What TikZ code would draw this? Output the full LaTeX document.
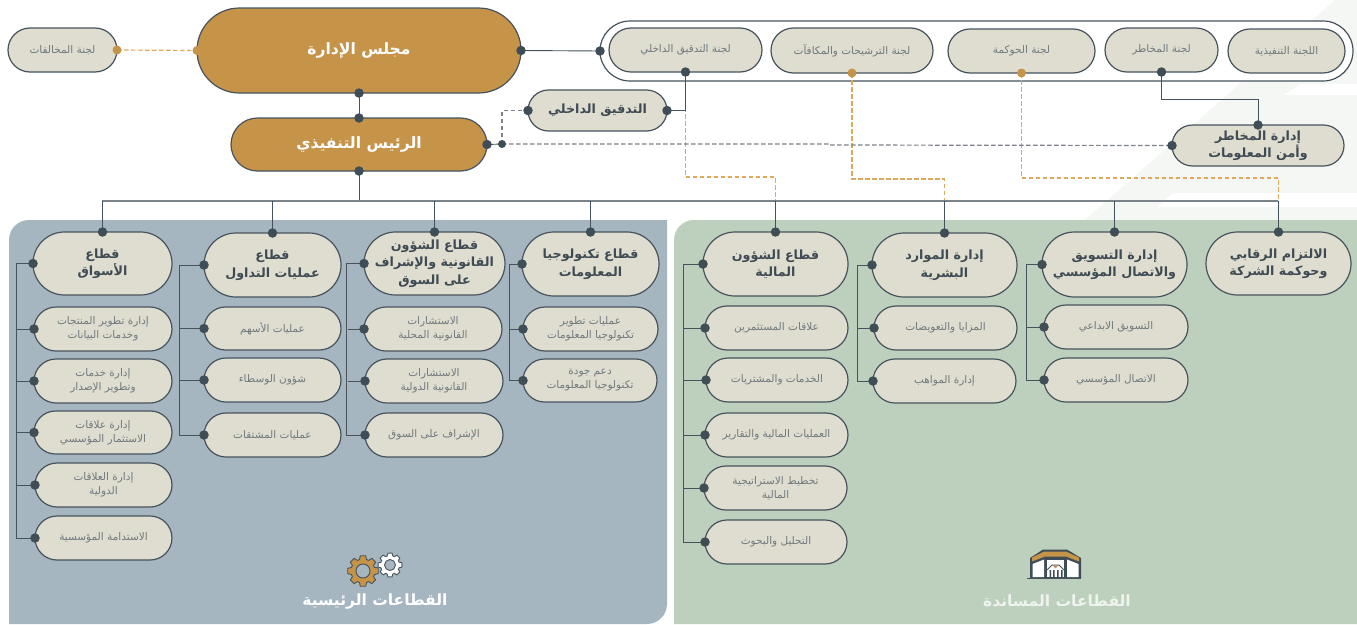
\documentclass[tikz,border=0pt]{standalone}
\usepackage{fontspec}
\usetikzlibrary{shapes.misc,calc}
\TeXXeTstate=1
\newfontfamily\arabicfont[Script=Arabic]{DejaVu Sans}
\newcommand{\AR}[1]{{\arabicfont\beginR #1\endR}}
\definecolor{gold}{HTML}{C69449}
\definecolor{pillfill}{HTML}{DFDDCF}
\definecolor{edge}{HTML}{46535D}
\definecolor{dotc}{HTML}{3F4D57}
\definecolor{bluepanel}{HTML}{A5B6C1}
\definecolor{greenpanel}{HTML}{BDD0BD}
\definecolor{itemtext}{HTML}{70797D}
\definecolor{headtext}{HTML}{3F4B54}
\definecolor{orangeline}{HTML}{E0A85C}
\definecolor{greyline}{HTML}{7B828A}
\definecolor{pale}{HTML}{F5F7F4}
\tikzset{
  x=1pt,y=-1pt,
  pillbase/.style={rounded rectangle,draw=edge,line width=1.2pt,inner sep=0pt,outer sep=0pt,align=center},
  itempill/.style={pillbase,fill=pillfill,text=itemtext,font=\fontsize{10.5}{14}\selectfont},
  headpill/.style={pillbase,fill=pillfill,text=headtext,font=\fontsize{12.7}{17.5}\selectfont\bfseries},
  goldpill/.style={pillbase,fill=gold,text=white,font=\fontsize{15.6}{18}\selectfont\bfseries},
  dotnode/.style={circle,fill=dotc,inner sep=0pt,minimum size=9.5pt},
  smalldot/.style={circle,fill=dotc,inner sep=0pt,minimum size=8pt},
  orangedot/.style={circle,fill=gold,inner sep=0pt,minimum size=9pt},
  conn/.style={draw=edge,line width=0.9pt},
  orangedash/.style={draw=orangeline,line width=1.2pt,dash pattern=on 4.5pt off 2.5pt},
  greydash/.style={draw=greyline,line width=1.2pt,dash pattern=on 4.5pt off 2.5pt},
  paneltitle/.style={text=white,font=\fontsize{15.5}{18}\selectfont\bfseries},
}
\newcommand{\pill}[7]{%
  \pgfmathsetmacro{\pcx}{(#3+#5)/2}\pgfmathsetmacro{\pcy}{(#4+#6)/2}%
  \pgfmathsetmacro{\pw}{#5-#3}\pgfmathsetmacro{\ph}{#6-#4}%
  \node[#1,minimum width=\pw pt,minimum height=\ph pt] (#2) at (\pcx,\pcy) {#7};}
\begin{document}
\begin{tikzpicture}
\useasboundingbox (0,0) rectangle (1357,624);
\fill[white] (0,0) rectangle (1357,624);
% pale backdrop
\fill[pale] (1085,220) -- (1335,0) -- (1357,0) -- (1357,220) -- cycle;
\fill[white] (1157,207) -- (1173,193) -- (1357,193) -- (1357,207) -- cycle;
\fill[white] (1284,95) -- (1300,84) -- (1357,84) -- (1357,95) -- cycle;
% panels
\fill[bluepanel] (9,624) -- (9,240) arc[start angle=180,end angle=90,radius=20pt] -- (667,220) -- (667,604) arc[start angle=0,end angle=-90,radius=20pt] -- cycle;
\fill[greenpanel] (674,624) -- (674,240) arc[start angle=180,end angle=90,radius=20pt] -- (1357,220) -- (1357,624) -- cycle;
% top row
\pill{pillbase,fill=white}{frame}{600}{21}{1353}{81}{}
\pill{itempill}{viol}{8}{28}{117}{72}{\AR{لجنة المخالفات}}
\pill{goldpill}{board}{197}{8}{521}{93}{\AR{مجلس الإدارة}}
\pill{goldpill}{ceo}{231}{118}{487}{171}{\AR{الرئيس التنفيذي}}
\pill{itempill}{cAudit}{609}{28}{762}{72}{\AR{لجنة التدقيق الداخلي}}
\pill{itempill}{cNom}{771}{28}{933}{73}{\AR{لجنة الترشيحات والمكافآت}}
\pill{itempill}{cGov}{948}{29}{1095}{73}{\AR{لجنة الحوكمة}}
\pill{itempill}{cRisk}{1105}{28}{1218}{72}{\AR{لجنة المخاطر}}
\pill{itempill}{cExec}{1228}{29}{1345}{73}{\AR{اللجنة التنفيذية}}
\pill{headpill}{intAudit}{528}{90}{667}{131}{\AR{التدقيق الداخلي}}
\pill{headpill}{riskMgmt}{1172}{125}{1344}{166}{\AR{إدارة المخاطر}\\\AR{وأمن المعلومات}}
% blue panel: markets
\pill{headpill}{mk}{33}{232}{172}{295}{\AR{قطاع}\\\AR{الأسواق}}
\pill{itempill}{mkA}{34}{307}{172}{351}{\AR{إدارة تطوير المنتجات}\\\AR{وخدمات البيانات}}
\pill{itempill}{mkB}{34}{359}{172}{403}{\AR{إدارة خدمات}\\\AR{وتطوير الإصدار}}
\pill{itempill}{mkC}{34}{411}{172}{454}{\AR{إدارة علاقات}\\\AR{الاستثمار المؤسسي}}
\pill{itempill}{mkD}{35}{463}{172}{507}{\AR{إدارة العلاقات}\\\AR{الدولية}}
\pill{itempill}{mkE}{35}{516}{172}{560}{\AR{الاستدامة المؤسسية}}
% trading
\pill{headpill}{tr}{204}{233}{341}{297}{\AR{قطاع}\\\AR{عمليات التداول}}
\pill{itempill}{trA}{204}{307}{341}{350}{\AR{عمليات الأسهم}}
\pill{itempill}{trB}{204}{358}{341}{402}{\AR{شؤون الوسطاء}}
\pill{itempill}{trC}{204}{413}{341}{457}{\AR{عمليات المشتقات}}
% legal
\pill{headpill}{lg}{366}{232}{503}{295}{\AR{قطاع الشؤون}\\\AR{القانونية والإشراف}\\\AR{على السوق}}
\pill{itempill}{lgA}{364}{307}{502}{351}{\AR{الاستشارات}\\\AR{القانونية المحلية}}
\pill{itempill}{lgB}{365}{359}{503}{403}{\AR{الاستشارات}\\\AR{القانونية الدولية}}
\pill{itempill}{lgC}{365}{413}{503}{457}{\AR{الإشراف على السوق}}
% IT
\pill{headpill}{it}{522}{232}{659}{296}{\AR{قطاع تكنولوجيا}\\\AR{المعلومات}}
\pill{itempill}{itA}{523}{307}{658}{351}{\AR{عمليات تطوير}\\\AR{تكنولوجيا المعلومات}}
\pill{itempill}{itB}{523}{359}{657}{402}{\AR{دعم جودة}\\\AR{تكنولوجيا المعلومات}}
% finance
\pill{headpill}{fi}{703}{232}{848}{296}{\AR{قطاع الشؤون}\\\AR{المالية}}
\pill{itempill}{fiA}{705}{306}{848}{350}{\AR{علاقات المستثمرين}}
\pill{itempill}{fiB}{706}{358}{848}{402}{\AR{الخدمات والمشتريات}}
\pill{itempill}{fiC}{705}{413}{848}{457}{\AR{العمليات المالية والتقارير}}
\pill{itempill}{fiD}{704}{466}{847}{510}{\AR{تخطيط الاستراتيجية}\\\AR{المالية}}
\pill{itempill}{fiE}{705}{520}{847}{564}{\AR{التحليل والبحوث}}
% HR
\pill{headpill}{hr}{872}{233}{1017}{297}{\AR{إدارة الموارد}\\\AR{البشرية}}
\pill{itempill}{hrA}{874}{306}{1017}{350}{\AR{المزايا والتعويضات}}
\pill{itempill}{hrB}{873}{359}{1016}{403}{\AR{إدارة المواهب}}
% marketing
\pill{headpill}{mc}{1042}{232}{1187}{297}{\AR{إدارة التسويق}\\\AR{والاتصال المؤسسي}}
\pill{itempill}{mcA}{1044}{305}{1188}{349}{\AR{التسويق الابداعي}}
\pill{itempill}{mcB}{1044}{358}{1188}{402}{\AR{الاتصال المؤسسي}}
% compliance
\pill{headpill}{cp}{1206}{232}{1351}{295}{\AR{الالتزام الرقابي}\\\AR{وحوكمة الشركة}}
% waypoint coordinates
\coordinate (busL) at (102,201);
\coordinate (busR) at (1278,201);
\coordinate (ceoJoint) at (502,144);
% dashed
\draw[orangedash] (viol.east) -- (board.west);
\draw[orangedash] (cAudit.south) -- ++(0,105) -| (fi.north |- busL);
\draw[orangedash] (cNom.south) -- ++(0,106) -| (hr.north);
\draw[orangedash] (cGov.south) -- ++(0,105) -| (cp.north |- busL);
\draw[greydash] (ceoJoint) -- (830,144) -- (830,145) -- (riskMgmt.west);
\draw[greydash] (ceoJoint) |- (intAudit.west);
% solid
\draw[conn] (board.east) -- (frame.west);
\draw[conn] (board.south) -- (ceo.north);
\draw[conn] (ceo.east) -- (ceoJoint);
\draw[conn] (intAudit.east) -| (cAudit.south);
\draw[conn] (cRisk.south) -- ++(0,27) -| (riskMgmt.north);
\draw[conn] (ceo.south) -- (ceo.south |- busL);
\draw[conn,line width=1.2pt,draw=greyline] (busL) -- (busR);
\foreach \n in {mk,tr,lg,it,fi,hr,mc,cp}{\draw[conn] (\n.north) -- (\n.north |- busL);}
% brackets
\draw[conn] (mk.west) -- ++(-17,0) |- (mkE.west);
\foreach \n in {mkA,mkB,mkC,mkD}{\draw[conn] (\n.west) -- (\n.west -| 17,0);}
\draw[conn] (tr.west) -- ++(-25,0) |- (trC.west);
\foreach \n in {trA,trB}{\draw[conn] (\n.west) -- (\n.west -| 179,0);}
\draw[conn] (lg.west) -- ++(-18,0) |- (lgC.west);
\foreach \n in {lgA,lgB}{\draw[conn] (\n.west) -- (\n.west -| 348,0);}
\draw[conn] (it.west) -- ++(-13,0) |- (itB.west);
\draw[conn] (itA.west) -- (itA.west -| 509,0);
\draw[conn] (fi.west) -- ++(-20,0) |- (fiE.west);
\foreach \n in {fiA,fiB,fiC,fiD}{\draw[conn] (\n.west) -- (\n.west -| 683,0);}
\draw[conn] (hr.west) -- ++(-15,0) |- (hrB.west);
\draw[conn] (hrA.west) -- (hrA.west -| 857,0);
\draw[conn] (mc.west) -- ++(-16,0) |- (mcB.west);
\draw[conn] (mcA.west) -- (mcA.west -| 1026,0);
% dots
\foreach \p in {board.east,board.south,ceo.north,ceo.south,ceo.east,frame.west,intAudit.east,intAudit.west,cAudit.south,cRisk.south,riskMgmt.north,riskMgmt.west,
  mk.north,mk.west,mkA.west,mkB.west,mkC.west,mkD.west,mkE.west,
  tr.north,tr.west,trA.west,trB.west,trC.west,
  lg.north,lg.west,lgA.west,lgB.west,lgC.west,
  it.north,it.west,itA.west,itB.west,
  fi.north,fi.west,fiA.west,fiB.west,fiC.west,fiD.west,fiE.west,
  hr.north,hr.west,hrA.west,hrB.west,
  mc.north,mc.west,mcA.west,mcB.west,cp.north}{\node[dotnode] at (\p) {};}
\node[smalldot] (jointDot) at (ceoJoint) {};
\foreach \p in {viol.east,board.west,cNom.south,cGov.south}{\node[orangedot] at (\p) {};}
% gears
\foreach \cx/\cy/\ro/\ri/\rh/\col in {363/571/15.5/12/7/gold,390/565/12/9.5/5.5/white}{
  \draw[draw=edge,line width=0.9pt,fill=\col,even odd rule]
    (\cx,\cy) ++(-12:\ro)
    \foreach \a in {0,45,...,315}{
      -- ($(\cx,\cy)+(\a-10:\ro)$) -- ($(\cx,\cy)+(\a+10:\ro)$)
      -- ($(\cx,\cy)+(\a+17:\ri)$) -- ($(\cx,\cy)+(\a+28:\ri)$) 
    } -- cycle
    (\cx,\cy) circle[radius=\rh];
}
% kaaba
\fill[dotc] (1030,558) -- (1043,549.5) -- (1067,549.5) -- (1081,558) -- (1081,578) -- (1030,578) -- cycle;
\fill[gold] (1032,557.5) -- (1044,551.5) -- (1066,551.5) -- (1079,557.5) -- (1079,561.5) -- (1066,556.5) -- (1045,556.5) -- (1032,561.5) -- cycle;
\fill[white] (1032.5,564) -- (1044,559.5) -- (1044,577) -- (1032.5,577) -- cycle;
\fill[white] (1078.5,564) -- (1067,559.5) -- (1067,577) -- (1078.5,577) -- cycle;
\fill[white] (1047,560) rectangle (1064,577);
\fill[dotc] (1049.5,570) rectangle (1051,577.5) (1053,570) rectangle (1054.5,577.5) (1057,570) rectangle (1058.5,577.5) (1061,570) rectangle (1062.5,577.5);
\draw[edge,line width=1pt] (1047,570) -- (1052,565) -- (1059,565) -- (1064,570);
\fill[gold] (1055.5,566.5) circle[radius=1.8];
\draw[edge,line width=1.1pt] (1027,578.5) -- (1081,578.5);
% panel titles
\node[paneltitle] (mainTitle) at (375,601) {\AR{القطاعات الرئيسية}};
\node[paneltitle,text opacity=0.75] (supportTitle) at (1057,601) {\AR{القطاعات المساندة}};
\end{tikzpicture}
\end{document}
